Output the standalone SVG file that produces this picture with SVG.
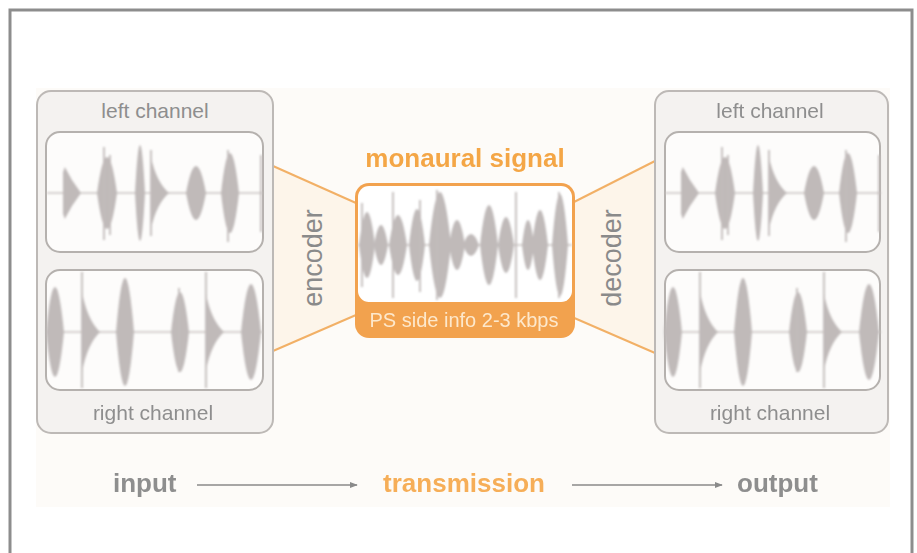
<svg xmlns="http://www.w3.org/2000/svg" xmlns:xlink="http://www.w3.org/1999/xlink" width="917" height="553" viewBox="0 0 917 553">
<style>
  .frame{fill:#ffffff;stroke:#8d8d8d;stroke-width:3}
  .panel{fill:#f4f2f0;stroke:#bdb9b6;stroke-width:2}
  .inner{fill:#fdfcfb;stroke:#b5b1ae;stroke-width:2}
  .axis{stroke:#c8c3c1;stroke-width:1.5}
  .wf{fill:#c0bab9}
  .spike{stroke:#c2bcbb;stroke-width:1.8}
  .lbl{font-family:"Liberation Sans",Arial,sans-serif;font-size:21px;fill:#8e8e8e;text-anchor:middle}
  .rot{font-family:"Liberation Sans",Arial,sans-serif;font-size:27px;fill:#8a8a8a;text-anchor:middle}
  .big{font-family:"Liberation Sans",Arial,sans-serif;font-size:26px;font-weight:bold;fill:#8e8e8e}
  .trap{fill:#fdf5ea;stroke:none}
  .tline{stroke:#f2b066;stroke-width:2;fill:none}
  .arrow{stroke:#8a8a8a;stroke-width:1.4;fill:none}
</style>
<defs>
  <path id="lens" d="M -1 0 Q -0.5 -1 0 -1 Q 0.5 -1 1 0 Q 0.5 1 0 1 Q -0.5 1 -1 0 Z"/>
  <path id="tri" d="M 0 -1 Q 0.3 -0.3 1 0 Q 0.3 0.3 0 1 Z"/>
  <path id="burst" d="M 0 -0.8 L 0.1 -1 Q 0.45 -0.5 1 0 Q 0.45 0.5 0.1 1 L 0 0.8 Z"/>
  <filter id="soft" x="-5%" y="-5%" width="110%" height="110%">
    <feGaussianBlur stdDeviation="0.8"/>
  </filter>
  <marker id="ah" viewBox="0 0 10 10" refX="9" refY="5" markerWidth="8" markerHeight="8" markerUnits="userSpaceOnUse" orient="auto">
    <path d="M0 1 L10 5 L0 9 Z" fill="#8a8a8a"/>
  </marker>
  <g id="wfLeft" class="wf" filter="url(#soft)">
    <line class="axis" x1="47" y1="193" x2="263" y2="193"/>
    <use href="#burst" transform="translate(63,193) scale(18,26)"/>
    <use href="#lens" transform="translate(107,193) scale(10,36)"/>
    <line class="spike" x1="104" y1="147" x2="104" y2="240"/>
    <line class="spike" x1="110" y1="155" x2="110" y2="235"/>
    <use href="#lens" transform="translate(140,193) scale(5,48)"/>
    <use href="#tri" transform="translate(151,193) scale(18,36)"/>
    <line class="spike" x1="151" y1="150" x2="151" y2="236"/>
    <use href="#lens" transform="translate(196,193) scale(10,27)"/>
    <use href="#lens" transform="translate(230,193) scale(9,40)"/>
    <line class="spike" x1="228" y1="150" x2="228" y2="242"/>
    <line class="spike" x1="261" y1="155" x2="261" y2="232"/>
  </g>
  <g id="wfRight" class="wf" filter="url(#soft)">
    <line class="axis" x1="47" y1="332" x2="263" y2="332"/>
    <use href="#lens" transform="translate(55,332) scale(9,45)"/>
    <line class="spike" x1="82" y1="272" x2="82" y2="388"/>
    <use href="#tri" transform="translate(82,332) scale(18,40)"/>
    <use href="#lens" transform="translate(125,332) scale(9,54)"/>
    <use href="#lens" transform="translate(180,332) scale(9,40)"/>
    <line class="spike" x1="179" y1="288" x2="179" y2="372"/>
    <line class="spike" x1="206" y1="272" x2="206" y2="388"/>
    <use href="#tri" transform="translate(206,332) scale(18,38)"/>
    <use href="#lens" transform="translate(251,332) scale(10,48)"/>
  </g>
</defs>

<rect class="frame" x="10" y="10" width="902" height="560"/>
<rect x="36" y="88" width="854" height="419" fill="#fdfbf8"/>

<g id="connectors">
  <polygon class="trap" points="273,166 355,203 355,315 273,351"/>
  <line class="tline" x1="273" y1="166" x2="356" y2="203"/>
  <line class="tline" x1="273" y1="351" x2="356" y2="315"/>
  <polygon class="trap" points="573,203 655,161 655,353 573,317"/>
  <line class="tline" x1="572" y1="203" x2="655" y2="161"/>
  <line class="tline" x1="572" y1="317" x2="655" y2="353"/>
  <line class="arrow" x1="197" y1="485" x2="357" y2="485" marker-end="url(#ah)"/>
  <line class="arrow" x1="572" y1="485" x2="722" y2="485" marker-end="url(#ah)"/>
</g>

<g id="encoder">
  <text class="rot" transform="translate(322,258) rotate(-90)">encoder</text>
</g>
<g id="decoder">
  <text class="rot" transform="translate(621,258) rotate(-90)">decoder</text>
</g>

<g id="input-panel">
  <rect class="panel" x="37" y="91" width="236" height="342" rx="14"/>
  <text class="lbl" x="155" y="118">left channel</text>
  <rect class="inner" x="46" y="132" width="217" height="120" rx="14"/>
  <use href="#wfLeft"/>
  <rect class="inner" x="46" y="270" width="217" height="120" rx="14"/>
  <use href="#wfRight"/>
  <text class="lbl" x="153" y="420">right channel</text>
</g>

<g id="output-panel">
  <rect class="panel" x="655" y="91" width="233" height="342" rx="14"/>
  <text class="lbl" x="770" y="118">left channel</text>
  <rect class="inner" x="665" y="132" width="215" height="120" rx="14"/>
  <use href="#wfLeft" transform="translate(618,0)"/>
  <rect class="inner" x="665" y="270" width="215" height="120" rx="14"/>
  <use href="#wfRight" transform="translate(618,0)"/>
  <text class="lbl" x="770" y="420">right channel</text>
</g>

<g id="monaural">
  <text class="big" x="465" y="167" text-anchor="middle" style="fill:#f4a646">monaural signal</text>
  <rect x="355" y="183" width="220" height="155" rx="14" fill="#f2a24e"/>
  <rect x="358" y="186" width="214" height="116" rx="11" fill="#ffffff"/>
  <g class="wf" filter="url(#soft)">
    <line class="axis" x1="358" y1="245" x2="572" y2="245"/>
    <line class="spike" x1="362" y1="203" x2="362" y2="287"/>
    <use href="#lens" transform="translate(367,245) scale(8,33)"/>
    <use href="#lens" transform="translate(381,245) scale(7,20)"/>
    <line class="spike" x1="393" y1="192" x2="393" y2="298"/>
    <use href="#lens" transform="translate(398,245) scale(9,30)"/>
    <use href="#lens" transform="translate(417,245) scale(8,36)"/>
    <line class="spike" x1="420" y1="200" x2="420" y2="292"/>
    <use href="#lens" transform="translate(440,245) scale(11,53)"/>
    <line class="spike" x1="437" y1="190" x2="437" y2="300"/>
    <use href="#lens" transform="translate(457,245) scale(8,25)"/>
    <use href="#lens" transform="translate(471,245) scale(8,11)"/>
    <use href="#lens" transform="translate(489,245) scale(9,40)"/>
    <use href="#lens" transform="translate(506,245) scale(8,28)"/>
    <line class="spike" x1="516" y1="192" x2="516" y2="298"/>
    <use href="#lens" transform="translate(528,245) scale(6,25)"/>
    <use href="#lens" transform="translate(540,245) scale(8,35)"/>
    <use href="#lens" transform="translate(560,245) scale(8,51)"/>
    <line class="spike" x1="559" y1="192" x2="559" y2="298"/>
  </g>
  <text x="464" y="327" text-anchor="middle" font-family="'Liberation Sans',Arial,sans-serif" font-size="20" fill="#fde8cc">PS side info 2-3 kbps</text>
</g>

<g id="input">
  <text class="big" x="113" y="492">input</text>
</g>
<g id="transmission">
  <text class="big" x="464" y="492" text-anchor="middle" style="fill:#f6ae58">transmission</text>
</g>
<g id="output">
  <text class="big" x="737" y="492">output</text>
</g>
</svg>
